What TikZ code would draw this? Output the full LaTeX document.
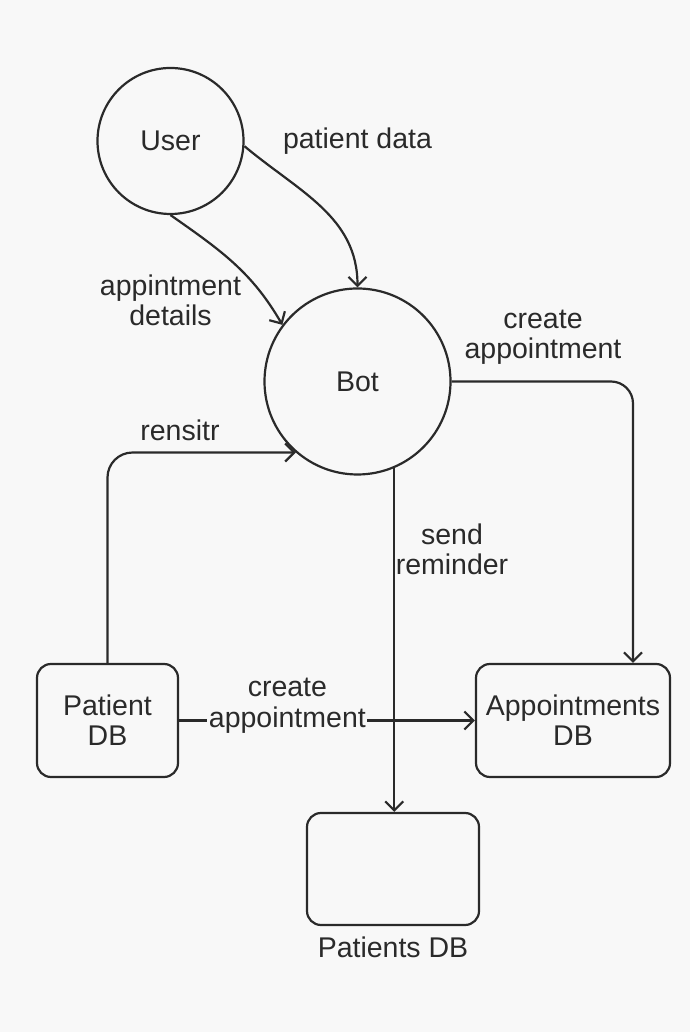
\documentclass[tikz,border=0pt]{standalone}
\usepackage{fontspec}
\setmainfont{Liberation Sans}
\usetikzlibrary{arrows.meta,positioning}
\definecolor{bgc}{HTML}{F8F8F8}
\definecolor{ink}{HTML}{2A2A2A}

\begin{document}
\begin{tikzpicture}[x=1pt,y=1pt,
  every node/.style={text=ink,font=\fontsize{28.5}{30}\selectfont},
  proc/.style={circle,draw=ink,line width=2.2pt,inner sep=0pt},
  store/.style={rectangle,rounded corners=14pt,draw=ink,line width=2.2pt,align=center},
  lbl/.style={align=center,inner sep=0pt},
  flow/.style={draw=ink,line width=2.2pt,-{Straight Barb[length=9pt,width=18pt]}}]
     \fill[bgc] (0,0) rectangle (690,1032);
     \useasboundingbox (0,0) rectangle (690,1032);
     \node[proc,minimum size=186pt] (bot) at (357.5,650.5) {Bot};
     \node[proc,minimum size=146pt,on grid,above left=240.5pt and 187pt of bot] (user) {User};
     \node[store,minimum width=141pt,minimum height=113pt,on grid,below left=339pt and 250pt of bot] (pat) {Patient\\DB};
     \node[store,minimum width=194pt,minimum height=113pt,on grid,below right=339pt and 215.5pt of bot] (apt) {Appointments\\DB};
     \node[store,minimum width=172pt,minimum height=112pt,on grid,below right=487.5pt and 35.5pt of bot] (pts) {};
     \node[lbl,below=11pt of pts] (ptsl) {Patients DB};
     \node[lbl,on grid,right=187pt of user] (pdata) {patient data};
     \node[lbl,on grid,below=159pt of user] (adet) {appintment\\details};
     \node[lbl,on grid,above right=44.5pt and 185.5pt of bot] (capp) {create\\appointment};
     \node[lbl,on grid,below left=48.5pt and 177.5pt of bot] (reg) {rensitr};
     \node[lbl,on grid,below right=167.5pt and 94.5pt of bot] (rem) {send\\reminder};
     \draw[flow] (user.-4) to[out=-40,in=90] (bot.north);
     \draw[flow] (user.south) to[out=-35,in=120] (bot.143);
     \draw[flow,rounded corners=22pt] (bot.east) -| ([xshift=60pt]apt.north);
     \draw[flow,rounded corners=25pt] (pat.north) |- (bot.229);
     \draw[flow] (bot.-67) -- (bot.-67 |- pts.north);
     \draw[flow] (pat.east) -- node[pos=.366,lbl,fill=bgc,inner sep=1.5pt,
       label={[lbl,label distance=7pt]above:create}] {appointment} (apt.west);
\end{tikzpicture}
\end{document}
